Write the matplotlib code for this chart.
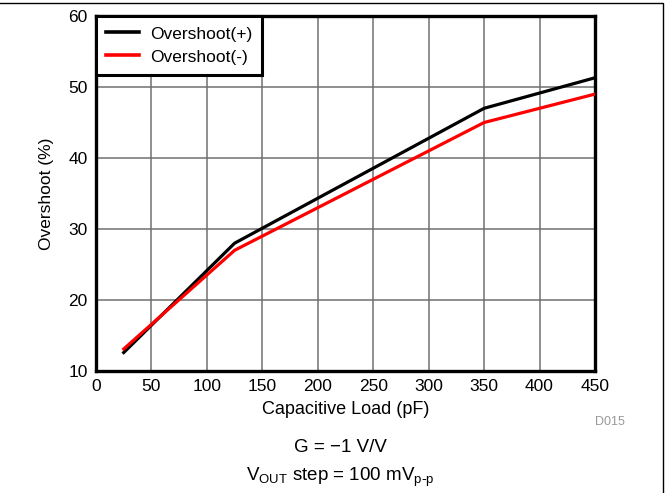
import matplotlib.pyplot as plt
from matplotlib.patches import Rectangle

# Overshoot vs capacitive load
load_pf = [25, 125, 350, 450]
overshoot_pos = [12.6, 28.0, 47.0, 51.3]
overshoot_neg = [13.1, 27.0, 45.0, 49.0]

x_ticks = [0, 50, 100, 150, 200, 250, 300, 350, 400, 450]
y_ticks = [10, 20, 30, 40, 50, 60]

plt.rcParams['font.family'] = ['Liberation Sans', 'DejaVu Sans']

W, H = 669, 493
fig = plt.figure(figsize=(W / 100, H / 100), dpi=100)

# plot area in pixels: left 96, right 595, top 16, bottom 371
ax = fig.add_axes([96 / W, 1 - 371 / H, (595 - 96) / W, (371 - 16) / H])

ax.plot(load_pf, overshoot_pos, color='black', lw=2.3, label='Overshoot(+)', zorder=3)
ax.plot(load_pf, overshoot_neg, color='#ff0000', lw=2.3, label='Overshoot(-)', zorder=3)

ax.set_xlim(0, 450)
ax.set_ylim(10, 60)
ax.set_xticks(x_ticks)
ax.set_yticks(y_ticks)
ax.tick_params(length=0, labelsize=12.5, pad=6)
ax.grid(True, color='#707070', lw=1.1)
ax.set_axisbelow(True)
for s in ax.spines.values():
    s.set_linewidth(2.4)

ax.set_xlabel('Capacitive Load (pF)', fontsize=13, labelpad=5)
ax.set_ylabel('Overshoot (%)', fontsize=12.5, labelpad=10)

leg = ax.legend(loc='upper left', bbox_to_anchor=(0, 1), borderaxespad=0,
                fontsize=12.5, handlelength=1.9, handletextpad=0.6,
                borderpad=0.6, labelspacing=0.45, fancybox=False,
                framealpha=1)
leg.get_frame().set_edgecolor('black')
leg.get_frame().set_linewidth(2.2)
for h in leg.get_lines():
    h.set_linewidth(2.6)

fig.text(610 / W, 1 - 422 / H, 'D015', fontsize=9, color='#999999', ha='center', va='center')
fig.text(340 / W, 1 - 447 / H, 'G = \u22121 V/V', fontsize=13.5, ha='center', va='center')
fig.text(340 / W, 1 - 477 / H, r'V$_{\mathregular{OUT}}$ step = 100 mV$_{\mathregular{p\text{-}p}}$',
         fontsize=13.5, ha='center', va='center')

# outer frame
fig.patches.append(Rectangle((-0.05, -0.05), (663 / W) + 0.05, (1 - 3 / H) + 0.05,
                             transform=fig.transFigure, fill=False,
                             edgecolor='black', lw=1))

fig.savefig('out.png', dpi=100)
